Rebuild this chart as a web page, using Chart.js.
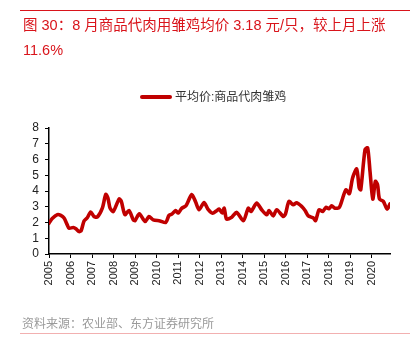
<!DOCTYPE html>
<html>
<head>
<meta charset="utf-8">
<script src="https://cdn.jsdelivr.net/npm/chart.js@4/dist/chart.umd.min.js"></script>
<style>
  html,body{margin:0;padding:0;background:#fff;}
  #wrap{position:relative;width:420px;height:342px;overflow:hidden;}
  #topline{position:absolute;left:20px;top:10px;width:390px;height:1px;background:#d9141b;}
  #title{position:absolute;left:23px;top:13px;width:395px;font-family:"Liberation Sans","Noto Sans CJK SC",sans-serif;font-size:14.5px;line-height:25px;color:#d9141b;white-space:nowrap;}
  #legend{position:absolute;left:140px;top:88px;height:18px;font-family:"Liberation Sans","Noto Sans CJK SC",sans-serif;font-size:12px;color:#333;white-space:nowrap;line-height:18px;}
  #legend .sw{display:inline-block;width:32px;height:4px;background:#c00000;vertical-align:middle;margin-right:3px;position:relative;top:-1px;border-radius:2px;}
  #source{position:absolute;left:22px;top:314px;font-family:"Noto Sans CJK SC",sans-serif;font-size:12px;color:#9a9a9a;line-height:18px;}
  #botline{position:absolute;left:20px;top:333px;width:390px;height:1px;background:#f2b0b0;}
  #c{position:absolute;left:0;top:0;}
</style>
</head>
<body>
<div id="wrap">
  <canvas id="c" width="420" height="342"></canvas>
  <div id="topline"></div>
  <div id="title">图 30：8 月商品代肉用雏鸡均价 3.18 元/只，较上月上涨<br>11.6%</div>
  <div id="legend"><span class="sw"></span>平均价:商品代肉雏鸡</div>
  <div id="source">资料来源：农业部、东方证券研究所</div>
  <div id="botline"></div>
</div>
<script>
const seriesName = '平均价:商品代肉雏鸡';
const dates = [2005.00,2005.15,2005.39,2005.55,2005.70,2005.85,2005.93,2006.13,2006.25,2006.40,2006.50,2006.63,2006.78,2006.94,2007.09,2007.25,2007.48,2007.64,2007.74,2007.84,2007.99,2008.26,2008.36,2008.53,2008.72,2008.92,2009.00,2009.20,2009.47,2009.65,2009.85,2010.16,2010.43,2010.58,2010.73,2010.89,2011.01,2011.17,2011.37,2011.64,2011.82,2011.98,2012.21,2012.41,2012.61,2012.80,2012.92,2013.06,2013.15,2013.26,2013.50,2013.73,2014.04,2014.27,2014.40,2014.66,2014.89,2015.13,2015.23,2015.43,2015.59,2015.90,2016.00,2016.16,2016.36,2016.52,2016.75,2016.91,2017.06,2017.30,2017.40,2017.56,2017.73,2017.88,2018.02,2018.15,2018.30,2018.50,2018.66,2018.81,2018.97,2019.12,2019.31,2019.43,2019.50,2019.70,2019.82,2019.93,2020.06,2020.18,2020.28,2020.37,2020.55,2020.73,2020.86];
const prices = [1.96,2.25,2.50,2.45,2.28,1.85,1.64,1.68,1.60,1.42,1.50,2.10,2.30,2.66,2.38,2.35,2.91,3.78,3.55,2.91,2.70,3.49,3.35,2.50,2.76,2.17,2.12,2.55,2.06,2.38,2.17,2.10,2.00,2.45,2.55,2.76,2.60,2.90,3.06,3.78,3.30,2.81,3.27,2.81,2.59,2.75,2.85,2.60,2.91,2.21,2.34,2.64,2.12,2.91,2.70,3.23,2.81,2.49,2.76,2.42,2.81,2.38,2.55,3.34,3.13,3.25,3.02,2.76,2.42,2.28,2.12,2.81,2.70,2.96,2.87,3.06,2.91,2.96,3.55,4.08,3.83,4.83,5.40,4.19,4.08,6.63,6.74,5.25,3.49,4.61,4.40,3.49,3.34,2.85,3.19];
const yearTicks = [2005,2006,2007,2008,2009,2010,2011,2012,2013,2014,2015,2016,2017,2018,2019,2020];
const yTicks = [0,1,2,3,4,5,6,7,8];

const points = dates.map((d, i) => ({x: d, y: prices[i]}));

new Chart(document.getElementById('c'), {
  type: 'line',
  data: {
    datasets: [{
      label: seriesName,
      data: points,
      borderColor: '#c00000',
      backgroundColor: '#c00000',
      borderWidth: 3.6,
      pointRadius: 0,
      tension: 0.25,
      borderCapStyle: 'round',
      borderJoinStyle: 'round'
    }]
  },
  options: {
    responsive: false,
    animation: false,
    events: [],
    layout: {padding: {top: 128, left: 0, right: 30, bottom: 0}},
    plugins: {legend: {display: false}, tooltip: {enabled: false}, title: {display: false}},
    scales: {
      x: {
        type: 'linear',
        min: dates[0],
        max: dates[dates.length - 1],
        afterBuildTicks: (s) => { s.ticks = yearTicks.map(v => ({value: v})); },
        afterFit: (s) => { s.height = 88; },
        ticks: {
          autoSkip: false,
          minRotation: 90,
          maxRotation: 90,
          padding: 3,
          color: '#222',
          font: {family: '"Liberation Sans", Arial, sans-serif', size: 11},
          callback: (v) => String(v)
        },
        grid: {display: true, drawOnChartArea: false, drawTicks: true, tickLength: 4, color: '#000', lineWidth: 1},
        border: {display: true, color: '#000', width: 1.5}
      },
      y: {
        min: 0,
        max: 8,
        afterBuildTicks: (s) => { s.ticks = yTicks.map(v => ({value: v})); },
        afterFit: (s) => { s.width = 49; },
        ticks: {
          autoSkip: false,
          padding: 6,
          color: '#222',
          font: {family: '"Liberation Sans", Arial, sans-serif', size: 12}
        },
        grid: {display: true, drawOnChartArea: false, drawTicks: true, tickLength: 4, color: '#000', lineWidth: 1},
        border: {display: true, color: '#000', width: 1.5}
      }
    }
  }
});
</script>
</body>
</html>
